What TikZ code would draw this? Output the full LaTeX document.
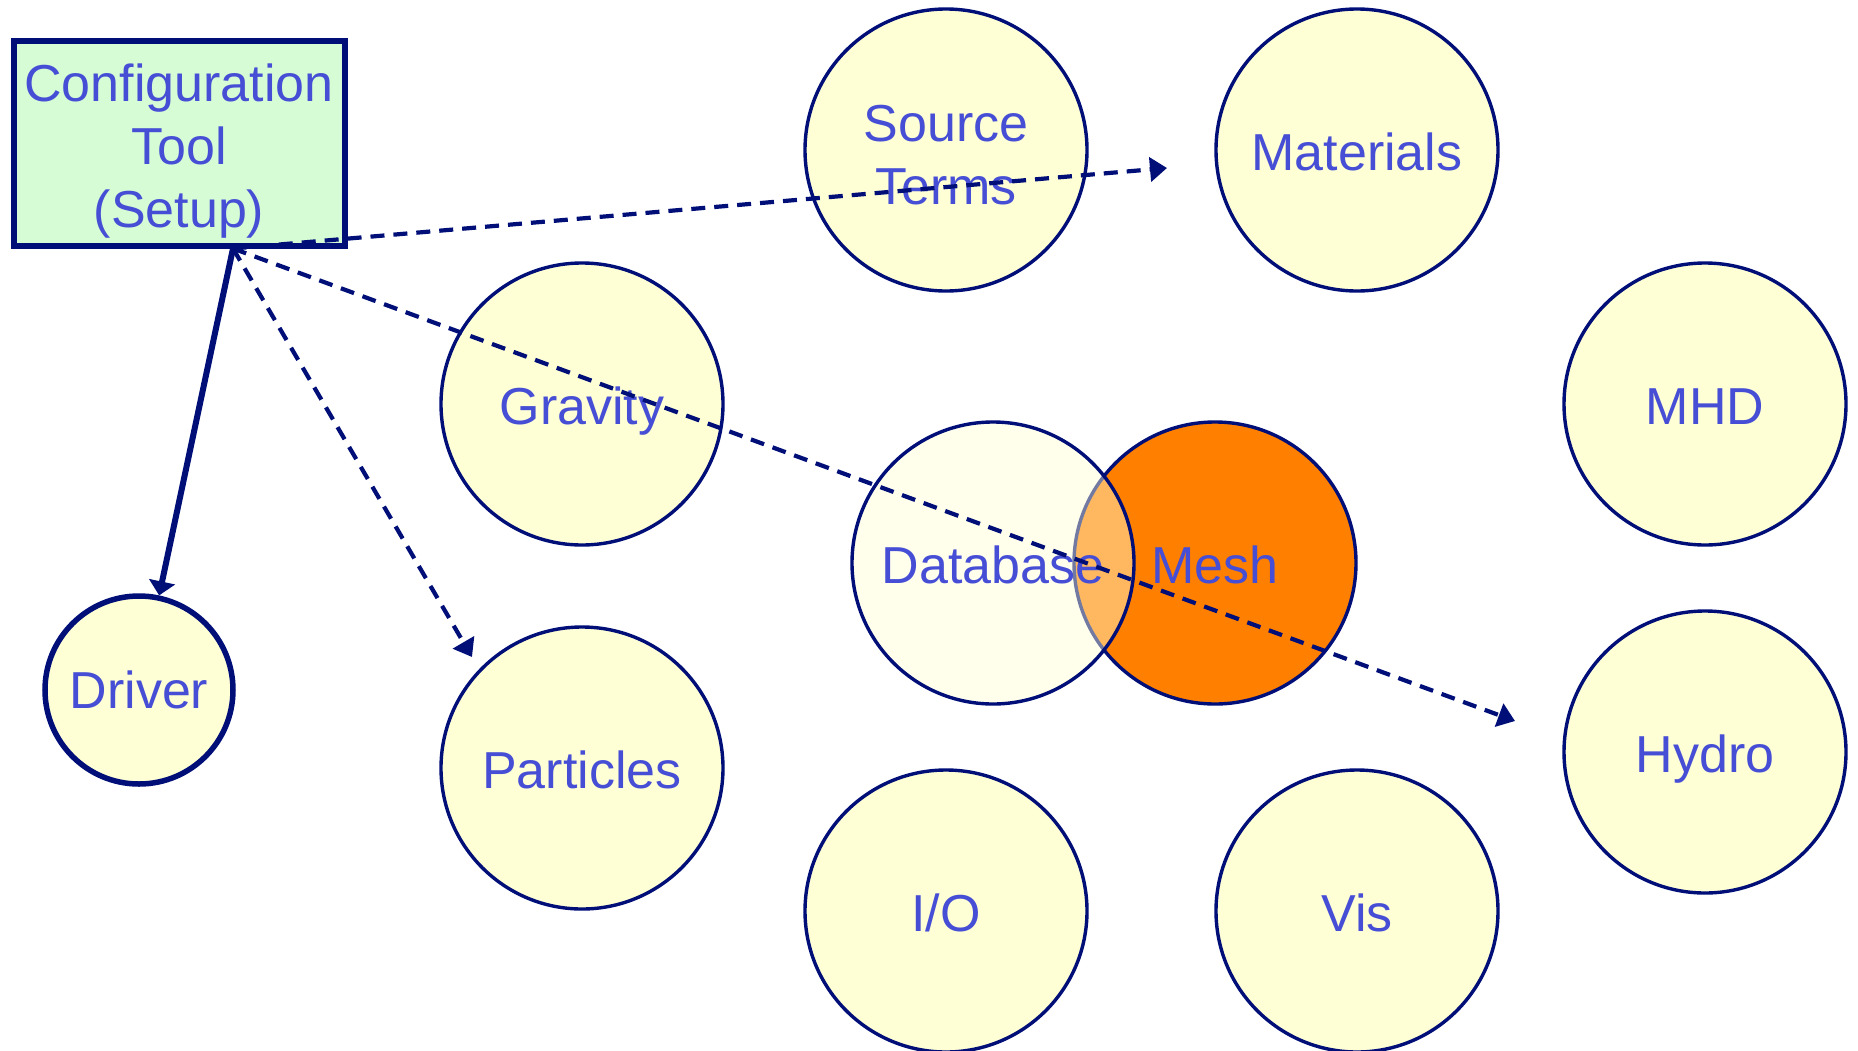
\documentclass[tikz,border=0pt]{standalone}
\usepackage{fontspec}
\setmainfont{Liberation Sans}
\usetikzlibrary{arrows.meta,calc}
\definecolor{navy}{RGB}{0,14,120}
\definecolor{labelblue}{RGB}{70,78,214}
\definecolor{modfill}{RGB}{255,255,213}
\definecolor{cfgfill}{RGB}{213,252,213}
\definecolor{meshorange}{RGB}{255,127,0}
\begin{document}
\begin{tikzpicture}[x=1pt,y=-1pt,
  every node/.style={font=\fontsize{52}{63}\selectfont, text=labelblue},
  module/.style={circle, draw=navy, line width=3.4pt, fill=modfill,
    minimum size=282pt, inner sep=0pt, text height=40pt, text depth=0pt},
  plainlabel/.style={inner sep=0pt, align=center},
  cfgbox/.style={rectangle, draw=navy, line width=6pt, fill=cfgfill,
    minimum width=331pt, minimum height=205pt, inner sep=0pt},
  solidlink/.style={draw=navy, line width=6pt, -{Triangle[width=26pt,length=14pt]}},
  dashlink/.style={draw=navy, line width=4.2pt, dash pattern=on 14pt off 9pt,
    -{Triangle[width=24pt,length=17pt]}}
]
\useasboundingbox (0,0) rectangle (1858,1050);

% module circles
\node[module] (src)  at (946,150) {};
\node[plainlabel] (srclabel) at (946,155) {Source\\Terms};
\node[module] (mat)  at (1357,150) {Materials};
\node[module] (grav) at (582,404) {Gravity};
\node[module] (mhd)  at (1705,404) {MHD};
\node[module] (part) at (582,768) {Particles};
\node[module] (hyd)  at (1705,752) {Hydro};
\node[module] (io)   at (946,911) {I/O};
\node[module] (vis)  at (1357,911) {Vis};

% core: mesh underneath, translucent database on top
\node[module, fill=meshorange] (mesh) at (1215,563) {};
\node[module, fill opacity=0.45, text opacity=1] (db) at (993,563) {};
\node[module, draw=none, fill=none] (dblabel) at (993,563) {Database};
\node[module, draw=none, fill=none] (meshlabel) at (1215,563) {Mesh};

% driver
\node[module, line width=5.5pt, minimum size=188pt, text height=36pt] (drv) at (139,690) {Driver};

% configuration tool
\node[cfgbox] (cfg) at (179,143) {};
\node[plainlabel] (cfglabel) at (179,151) {Configuration\\Tool\\(Setup)};

% connectors
\coordinate (from) at ([xshift=54pt]cfg.south);
\coordinate (toMat)  at (1167,168);
\coordinate (toPart) at (472,657);
\coordinate (toHyd)  at (1515,721);

\draw[solidlink] (from) -- (drv);
\draw[dashlink] (from) -- (toMat);
\draw[dashlink] (from) -- (toPart);
\draw[dashlink] (from) -- (toHyd);
\end{tikzpicture}
\end{document}
